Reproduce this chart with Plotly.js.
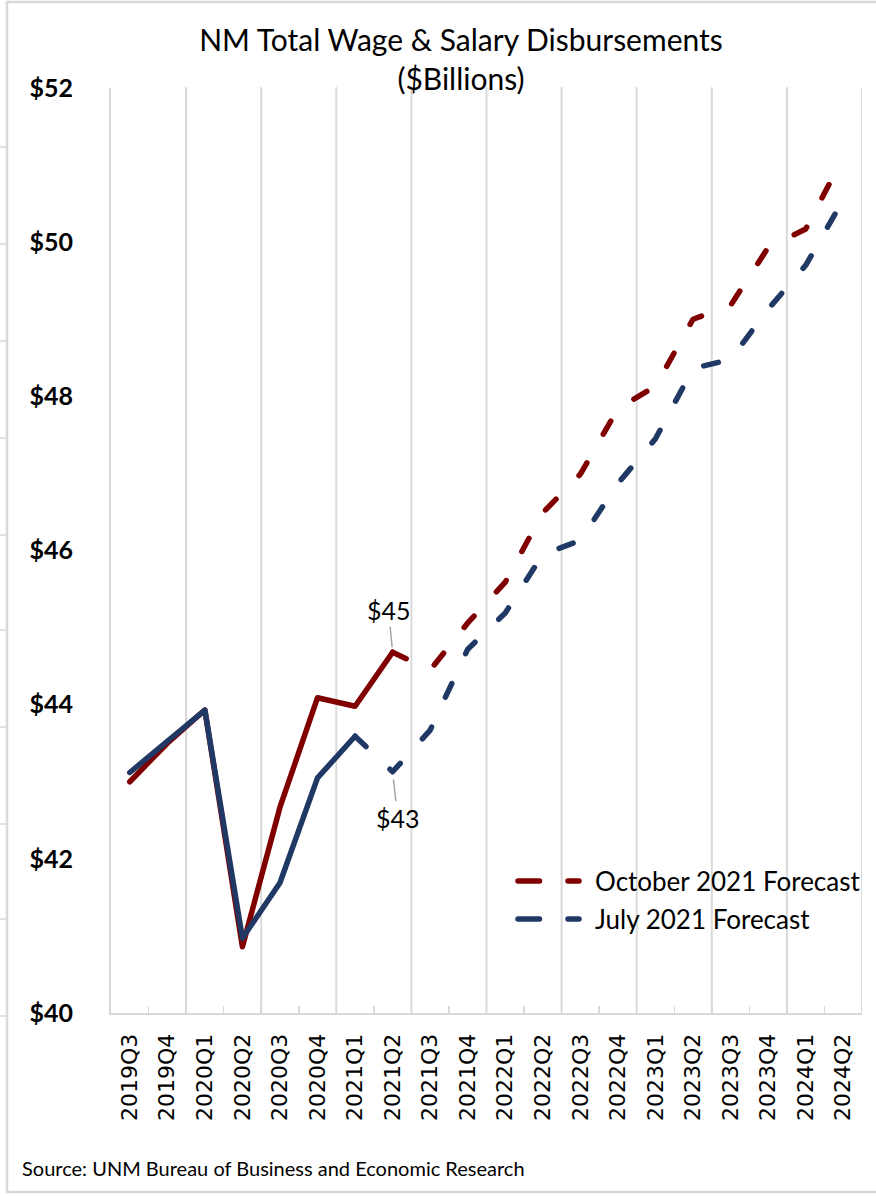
<!DOCTYPE html>
<html>
<head>
<meta charset="utf-8">
<script src="https://cdn.plot.ly/plotly-3.0.1.min.js"></script>
<style>
  html, body { margin: 0; padding: 0; background: #fff; }
  #chart { width: 876px; height: 1196px; }
</style>
</head>
<body>
<div id="chart"></div>
<script>
// ---- Data ----
const quarters = ['2019Q3','2019Q4','2020Q1','2020Q2','2020Q3','2020Q4','2021Q1','2021Q2',
                  '2021Q3','2021Q4','2022Q1','2022Q2','2022Q3','2022Q4','2023Q1','2023Q2',
                  '2023Q3','2023Q4','2024Q1','2024Q2'];
const october2021 = [43.00, 43.50, 43.93, 40.86, 42.67, 44.09, 43.98, 44.68,
                     44.45, 45.06, 45.59, 46.49, 46.99, 47.84, 48.13, 49.00,
                     49.18, 49.93, 50.17, 51.10];
const july2021 = [43.12, 43.52, 43.93, 40.97, 41.69, 43.05, 43.59, 43.13,
                  43.67, 44.72, 45.19, 45.95, 46.13, 46.87, 47.45, 48.36,
                  48.48, 49.13, 49.70, 50.55];
const octLastActual = '2021Q2';
const julLastActual = '2021Q1';
const seriesNames = ['October 2021 Forecast', 'July 2021 Forecast'];
const labelQuarter = '2021Q2';
const yTicks = [40, 42, 44, 46, 48, 50, 52];
const titleText = 'NM Total Wage &amp; Salary Disbursements<br>($Billions)';
const sourceText = 'Source: UNM Bureau of Business and Economic Research';

// ---- Styles ----
const RED = '#800000';
const BLUE = '#203864';
const GRID = '#d9d9d9';
const LW = 5.5;
const DASH = '15px,33px';
const W = 876, H = 1196;
const M = { l: 111, r: 14, t: 88, b: 183 };
const PW = W - M.l - M.r, PH = H - M.t - M.b;
const pxX = px => (px - M.l) / PW;
const pxY = py => (H - M.b - py) / PH;

function split(vals, lastQ) {
  const k = quarters.indexOf(lastQ);
  return {
    hx: quarters.slice(0, k + 1), hy: vals.slice(0, k + 1),
    fx: quarters.slice(k), fy: vals.slice(k)
  };
}
const o = split(october2021, octLastActual);
const j = split(july2021, julLastActual);

const traces = [
  { x: o.hx, y: o.hy, type: 'scatter', mode: 'lines', name: seriesNames[0], showlegend: false,
    line: { color: RED, width: LW } },
  { x: o.fx, y: o.fy, type: 'scatter', mode: 'lines', name: seriesNames[0], showlegend: false,
    line: { color: RED, width: LW, dash: DASH } },
  { x: j.hx, y: j.hy, type: 'scatter', mode: 'lines', name: seriesNames[1], showlegend: false,
    line: { color: BLUE, width: LW } },
  { x: j.fx, y: j.fy, type: 'scatter', mode: 'lines', name: seriesNames[1], showlegend: false,
    line: { color: BLUE, width: LW, dash: DASH } }
];

// vertical gridlines every two categories (at category boundaries)
const shapes = [];
for (let b = 1.5; b <= quarters.length - 0.5; b += 2) {
  shapes.push({ type: 'line', xref: 'x', yref: 'paper', x0: b, x1: b, y0: 0, y1: 1,
                line: { color: GRID, width: 2 }, layer: 'below' });
}
// outer frame
shapes.push({ type: 'rect', xref: 'paper', yref: 'paper',
              x0: pxX(7), x1: pxX(882), y0: pxY(1192), y1: pxY(2),
              line: { color: GRID, width: 2.5 }, layer: 'below' });
// small marks left of the frame (edge of neighbouring panel)
[147, 244, 341, 438, 535, 630, 727, 824, 919, 1016].forEach(py => {
  shapes.push({ type: 'line', xref: 'paper', yref: 'paper',
                x0: pxX(0), x1: pxX(6), y0: pxY(py), y1: pxY(py),
                line: { color: GRID, width: 1.5 }, layer: 'below' });
});
// custom legend samples
const legendY = [881, 919];
[RED, BLUE].forEach((c, i) => {
  shapes.push({ type: 'line', xref: 'paper', yref: 'paper',
                x0: pxX(518), x1: pxX(579), y0: pxY(legendY[i]), y1: pxY(legendY[i]),
                line: { color: c, width: LW, dash: '21.5px,28.5px' } });
});

const qi = quarters.indexOf(labelQuarter);
const annFont = { family: 'Lato, sans-serif', size: 25, color: '#000' };
const annotations = [
  { x: labelQuarter, y: october2021[qi], xref: 'x', yref: 'y', text: '$' + Math.round(october2021[qi]),
    showarrow: true, arrowhead: 0, arrowwidth: 1.5, arrowcolor: '#a6a6a6', ax: -4, ay: -42,
    standoff: 5, font: annFont },
  { x: labelQuarter, y: july2021[qi], xref: 'x', yref: 'y', text: '$' + Math.round(july2021[qi]),
    showarrow: true, arrowhead: 0, arrowwidth: 1.5, arrowcolor: '#a6a6a6', ax: 5, ay: 46,
    standoff: 8, font: annFont },
  { xref: 'paper', yref: 'paper', x: pxX(593), y: pxY(legendY[0]), xanchor: 'left', yanchor: 'middle',
    text: seriesNames[0], showarrow: false, font: { family: 'Lato, sans-serif', size: 26, color: '#000' } },
  { xref: 'paper', yref: 'paper', x: pxX(593), y: pxY(legendY[1]), xanchor: 'left', yanchor: 'middle',
    text: seriesNames[1], showarrow: false, font: { family: 'Lato, sans-serif', size: 26, color: '#000' } },
  { xref: 'paper', yref: 'paper', x: pxX(20), y: pxY(1168), xanchor: 'left', yanchor: 'middle',
    text: sourceText, showarrow: false, font: { family: 'Lato, sans-serif', size: 20, color: '#000' } }
];

const layout = {
  width: W, height: H,
  margin: M,
  paper_bgcolor: '#fff', plot_bgcolor: '#fff',
  showlegend: false,
  title: { text: titleText, x: 461 / W, xanchor: 'center', xref: 'container',
           yref: 'container', y: 1 - 51 / H, yanchor: 'middle',
           font: { family: 'Lato, sans-serif', size: 30, color: '#000' } },
  xaxis: {
    type: 'category', categoryorder: 'array', categoryarray: quarters,
    range: [-0.5, quarters.length - 0.5],
    showgrid: false, zeroline: false,
    showline: true, linecolor: GRID, linewidth: 2,
    ticks: 'inside', tickson: 'boundaries', ticklen: 7, tickcolor: GRID, tickwidth: 1.5,
    tickangle: -90, ticklabelstandoff: 10,
    tickfont: { family: 'DejaVu Sans, Verdana, sans-serif', size: 22, color: '#000' }
  },
  yaxis: {
    range: [40, 52], tickvals: yTicks, ticktext: yTicks.map(v => '$' + v),
    showgrid: false, zeroline: false,
    showline: true, linecolor: GRID, linewidth: 2,
    ticks: '', ticklabelstandoff: 31,
    tickfont: { family: 'Lato, sans-serif', size: 25, color: '#000', weight: 'bold' }
  },
  shapes: shapes,
  annotations: annotations
};

Plotly.newPlot('chart', traces, layout, { staticPlot: true }).then(() => {
  document.querySelectorAll('.js-line, .shapelayer path').forEach(p => {
    p.style.strokeLinecap = 'round';
    p.style.strokeLinejoin = 'round';
  });
});
</script>
</body>
</html>
